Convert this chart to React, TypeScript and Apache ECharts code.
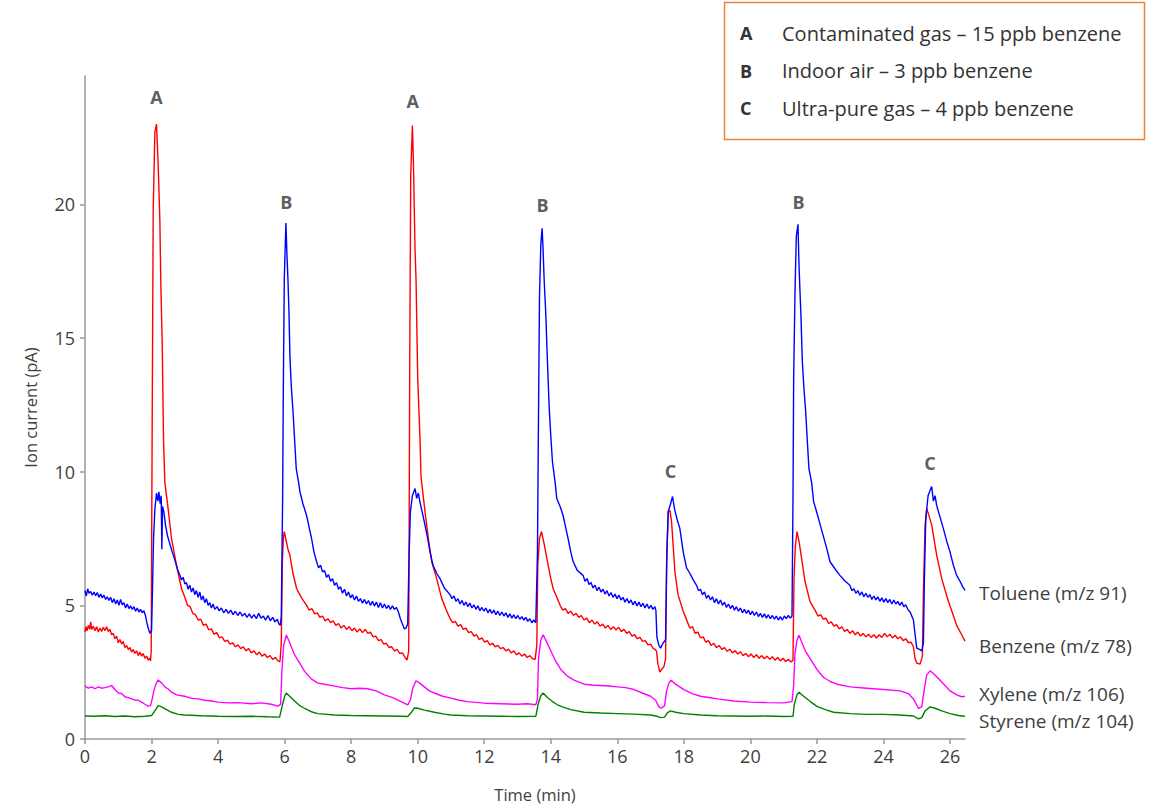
import React, { useEffect, useRef } from "react";
import * as echarts from "echarts";

// ---------- data (time in min, ion current in pA) ----------
const toluene: number[][] = [
  [0,5.55],[0.04,5.35],[0.08,5.62],[0.12,5.45],[0.17,5.52],[0.22,5.38],[0.27,5.5],[0.32,5.36],[0.37,5.48],[0.42,5.3],[0.47,5.42],[0.52,5.28],[0.57,5.38],[0.62,5.22],[0.67,5.32],[0.72,5.18],[0.77,5.3],[0.82,5.1],[0.87,5.25],[0.92,5.05],[0.97,5.2],[1.02,5.0],[1.07,5.22],[1.12,5.02],[1.17,5.1],[1.22,4.9],[1.27,5.05],[1.32,4.88],[1.37,4.98],[1.42,4.85],[1.47,4.95],[1.52,4.78],[1.57,4.9],[1.62,4.75],[1.67,4.85],[1.72,4.72],[1.77,4.8],[1.82,4.6],[1.86,4.35],[1.9,4.15],[1.95,3.95],[2.0,4.05],
  [2.03,5.7],[2.06,7.5],[2.1,8.6],[2.15,9.2],[2.19,8.9],[2.22,9.25],[2.26,8.8],[2.29,9.1],[2.31,7.1],[2.33,8.7],[2.37,8.5],[2.42,8.0],[2.48,7.6],[2.55,7.3],[2.62,7.0],[2.7,6.7],[2.78,6.35],
  [2.86,6.1],[2.9,5.95],[2.95,6.05],[3.0,5.8],[3.05,5.85],[3.1,5.6],[3.15,5.75],[3.2,5.5],[3.25,5.65],[3.3,5.4],[3.35,5.55],[3.4,5.3],[3.45,5.5],[3.5,5.2],[3.55,5.35],[3.6,5.1],[3.65,5.25],[3.7,5.0],[3.75,5.1],[3.8,4.9],[3.85,5.05],[3.9,4.85],[3.97,4.95],[4.03,4.8],[4.1,4.9],[4.17,4.72],[4.24,4.85],[4.31,4.7],[4.38,4.82],[4.45,4.65],[4.52,4.78],[4.59,4.62],[4.66,4.75],[4.73,4.6],[4.8,4.7],[4.87,4.55],[4.94,4.68],[5.01,4.52],[5.08,4.65],[5.15,4.5],[5.22,4.7],[5.29,4.52],[5.36,4.6],[5.43,4.45],[5.5,4.62],[5.57,4.42],[5.64,4.55],[5.71,4.38],[5.78,4.48],[5.83,4.3],[5.87,4.25],[5.9,4.6],
  [5.94,9.0],[5.96,13.0],[5.99,17.2],[6.02,18.5],[6.04,19.3],[6.07,18.1],[6.1,17.2],[6.13,16.0],[6.16,14.3],[6.2,13.2],[6.25,12.3],[6.3,11.2],[6.35,10.1],[6.42,9.6],[6.46,9.25],[6.55,8.8],[6.66,8.36],[6.74,7.9],[6.81,7.5],[6.88,7.0],
  [6.96,6.64],[7.02,6.4],[7.08,6.5],[7.14,6.25],[7.2,6.3],[7.26,6.05],[7.32,6.15],[7.38,5.9],[7.44,6.0],[7.5,5.75],[7.56,5.85],[7.62,5.6],[7.68,5.7],[7.74,5.45],[7.8,5.6],[7.86,5.35],[7.92,5.5],[7.98,5.28],[8.04,5.4],[8.1,5.2],[8.16,5.35],[8.22,5.15],[8.28,5.25],[8.34,5.08],[8.4,5.22],[8.46,5.05],[8.52,5.18],[8.58,5.0],[8.64,5.15],[8.7,4.98],[8.76,5.12],[8.82,4.92],[8.88,5.1],[8.94,4.9],[9.0,5.05],[9.06,4.88],[9.12,5.0],[9.18,4.85],[9.24,4.98],[9.3,4.85],[9.36,4.92],[9.42,4.75],[9.48,4.5],[9.54,4.3],[9.6,4.12],[9.65,4.15],[9.7,4.3],
  [9.74,6.8],[9.78,8.5],[9.84,9.1],[9.92,9.37],[9.97,9.0],[10.02,9.2],[10.07,8.85],[10.15,8.4],[10.22,8.0],[10.3,7.5],[10.37,7.0],[10.46,6.5],[10.57,6.2],[10.67,6.0],[10.8,5.65],
  [10.97,5.4],[11.03,5.25],[11.09,5.35],[11.15,5.15],[11.21,5.25],[11.27,5.05],[11.33,5.18],[11.39,5.0],[11.45,5.12],[11.51,4.95],[11.57,5.08],[11.63,4.9],[11.69,5.02],[11.75,4.85],[11.81,4.98],[11.87,4.8],[11.93,4.92],[11.99,4.78],[12.05,4.9],[12.11,4.72],[12.17,4.85],[12.23,4.7],[12.29,4.82],[12.35,4.65],[12.41,4.78],[12.47,4.62],[12.53,4.75],[12.59,4.6],[12.65,4.72],[12.71,4.55],[12.77,4.68],[12.83,4.52],[12.89,4.65],[12.95,4.5],[13.01,4.62],[13.07,4.48],[13.13,4.58],[13.19,4.45],[13.25,4.55],[13.31,4.4],[13.37,4.5],[13.43,4.35],[13.49,4.45],[13.55,4.35],
  [13.6,7.0],[13.63,12.0],[13.66,16.5],[13.7,18.5],[13.74,19.1],[13.77,18.25],[13.8,17.2],[13.85,15.9],[13.9,14.1],[13.95,12.46],[14.0,11.34],[14.05,10.37],[14.13,9.6],[14.18,9.0],[14.28,8.7],[14.37,8.36],[14.45,7.9],[14.52,7.5],[14.6,7.0],[14.67,6.64],[14.8,6.3],
  [14.97,6.12],[15.03,5.9],[15.09,6.0],[15.15,5.78],[15.21,5.85],[15.27,5.65],[15.33,5.75],[15.39,5.55],[15.45,5.68],[15.51,5.5],[15.57,5.6],[15.63,5.42],[15.69,5.55],[15.75,5.35],[15.81,5.48],[15.87,5.3],[15.93,5.42],[15.99,5.25],[16.05,5.38],[16.11,5.2],[16.17,5.3],[16.23,5.12],[16.29,5.25],[16.35,5.08],[16.41,5.2],[16.47,5.02],[16.53,5.15],[16.59,4.98],[16.65,5.12],[16.71,4.95],[16.77,5.08],[16.83,4.9],[16.89,5.05],[16.95,4.88],[17.01,5.0],[17.07,4.85],[17.13,4.95],[17.16,4.8],[17.19,3.8],[17.25,3.5],[17.3,3.4],[17.38,3.6],[17.45,3.7],
  [17.49,7.0],[17.53,8.5],[17.6,8.8],[17.66,9.07],[17.72,8.6],[17.8,8.2],[17.88,7.87],[17.98,7.0],[18.08,6.4],[18.18,6.2],[18.28,5.95],
  [18.38,5.75],[18.44,5.55],[18.5,5.6],[18.56,5.4],[18.62,5.5],[18.68,5.26],[18.74,5.38],[18.8,5.2],[18.86,5.32],[18.92,5.1],[18.98,5.25],[19.04,5.05],[19.1,5.2],[19.16,5.0],[19.22,5.12],[19.28,4.92],[19.34,5.05],[19.4,4.88],[19.46,5.0],[19.52,4.82],[19.58,4.95],[19.64,4.78],[19.7,4.9],[19.76,4.72],[19.82,4.85],[19.88,4.7],[19.94,4.82],[20.0,4.65],[20.06,4.78],[20.12,4.62],[20.18,4.75],[20.24,4.58],[20.3,4.7],[20.36,4.55],[20.42,4.68],[20.48,4.52],[20.54,4.65],[20.6,4.5],[20.66,4.62],[20.72,4.48],[20.78,4.6],[20.84,4.45],[20.9,4.58],[20.96,4.45],[21.02,4.6],[21.08,4.5],[21.14,4.62],[21.2,4.52],[21.25,4.6],
  [21.28,9.0],[21.3,13.5],[21.34,16.7],[21.38,18.8],[21.43,19.25],[21.46,17.76],[21.49,16.75],[21.52,15.8],[21.56,14.14],[21.61,13.1],[21.66,12.28],[21.71,11.16],[21.76,10.1],[21.84,9.6],[21.9,8.88],[21.99,8.5],[22.1,8.0],[22.19,7.6],[22.3,7.1],[22.39,6.64],[22.55,6.35],[22.69,6.12],[22.85,5.9],
  [22.99,5.75],[23.05,5.55],[23.11,5.62],[23.17,5.45],[23.23,5.55],[23.29,5.38],[23.35,5.5],[23.41,5.32],[23.47,5.45],[23.53,5.3],[23.59,5.4],[23.65,5.22],[23.71,5.35],[23.77,5.2],[23.83,5.32],[23.89,5.15],[23.95,5.28],[24.01,5.12],[24.07,5.25],[24.13,5.1],[24.19,5.22],[24.25,5.05],[24.31,5.2],[24.37,5.05],[24.43,5.15],[24.49,5.0],[24.55,5.12],[24.61,4.95],[24.67,5.02],[24.73,4.85],[24.8,4.75],[24.9,4.45],[24.95,3.9],[25.0,3.4],[25.08,3.35],[25.15,3.3],[25.2,3.6],
  [25.23,6.0],[25.27,8.2],[25.34,9.1],[25.4,9.3],[25.45,9.44],[25.5,8.9],[25.55,9.1],[25.6,8.73],[25.7,8.3],[25.8,7.87],[25.9,7.4],[26.0,7.0],[26.1,6.5],[26.2,6.12],[26.3,5.9],[26.38,5.7],[26.45,5.56],
];

const benzene: number[][] = [
  [0,4.0],[0.03,4.2],[0.06,4.05],[0.1,4.25],[0.14,4.1],[0.17,4.38],[0.2,4.1],[0.25,4.22],[0.3,4.05],[0.35,4.2],[0.4,4.0],[0.45,4.15],[0.5,4.02],[0.55,4.18],[0.6,4.05],[0.65,4.2],[0.7,4.02],[0.75,4.1],[0.8,3.9],[0.85,3.95],[0.9,3.75],[0.95,3.85],[1.0,3.6],[1.05,3.72],[1.1,3.55],[1.15,3.65],[1.2,3.42],[1.25,3.5],[1.3,3.35],[1.35,3.42],[1.4,3.25],[1.45,3.35],[1.5,3.2],[1.55,3.3],[1.6,3.12],[1.65,3.25],[1.7,3.1],[1.75,3.2],[1.8,3.02],[1.85,3.1],[1.9,2.95],[1.94,3.02],[1.97,2.92],[1.99,3.3],
  [2.02,12.0],[2.05,19.75],[2.1,22.7],[2.15,23.0],[2.2,21.45],[2.25,19.4],[2.28,16.95],[2.32,14.85],[2.36,11.2],[2.4,9.6],[2.5,8.6],[2.6,7.5],[2.75,6.5],[2.9,5.63],
  [3.0,5.3],[3.08,5.0],[3.16,4.95],[3.24,4.7],[3.32,4.65],[3.4,4.45],[3.48,4.48],[3.56,4.25],[3.64,4.3],[3.72,4.08],[3.8,4.12],[3.88,3.92],[3.96,3.98],[4.04,3.78],[4.12,3.82],[4.2,3.65],[4.28,3.7],[4.36,3.55],[4.44,3.6],[4.52,3.45],[4.6,3.52],[4.68,3.38],[4.76,3.45],[4.84,3.3],[4.92,3.38],[5.0,3.22],[5.08,3.3],[5.16,3.15],[5.24,3.25],[5.32,3.1],[5.4,3.18],[5.48,3.05],[5.56,3.12],[5.64,2.98],[5.72,3.05],[5.8,2.92],[5.86,2.9],[5.9,3.6],
  [5.93,6.5],[5.96,7.5],[5.99,7.76],[6.05,7.4],[6.1,7.1],[6.16,6.87],[6.25,6.2],[6.36,5.63],[6.5,5.3],
  [6.66,5.0],[6.74,4.82],[6.82,4.88],[6.9,4.68],[6.98,4.72],[7.06,4.55],[7.14,4.6],[7.22,4.42],[7.3,4.5],[7.38,4.35],[7.46,4.42],[7.54,4.25],[7.62,4.32],[7.7,4.15],[7.78,4.25],[7.86,4.1],[7.94,4.2],[8.02,4.05],[8.1,4.15],[8.18,4.0],[8.26,4.12],[8.34,3.98],[8.42,4.1],[8.5,3.95],[8.58,4.0],[8.66,3.82],[8.74,3.85],[8.82,3.68],[8.9,3.72],[8.98,3.55],[9.06,3.58],[9.14,3.42],[9.22,3.45],[9.3,3.3],[9.38,3.35],[9.46,3.2],[9.54,3.22],[9.62,3.05],[9.68,2.95],[9.73,3.3],
  [9.76,14.0],[9.79,21.06],[9.84,22.95],[9.87,21.68],[9.92,18.3],[9.95,17.2],[10.0,13.5],[10.07,11.2],[10.1,9.8],[10.22,8.5],[10.32,7.5],[10.42,6.64],[10.57,6.0],[10.72,5.26],[10.85,4.85],
  [10.97,4.51],[11.05,4.35],[11.13,4.4],[11.21,4.22],[11.29,4.28],[11.37,4.1],[11.45,4.15],[11.53,3.98],[11.61,4.02],[11.69,3.85],[11.77,3.9],[11.85,3.72],[11.93,3.78],[12.01,3.62],[12.09,3.68],[12.17,3.52],[12.25,3.58],[12.33,3.45],[12.41,3.5],[12.49,3.38],[12.57,3.42],[12.65,3.3],[12.73,3.36],[12.81,3.22],[12.89,3.3],[12.97,3.15],[13.05,3.22],[13.13,3.1],[13.21,3.18],[13.29,3.05],[13.37,3.12],[13.45,3.0],[13.53,2.98],[13.58,3.5],
  [13.61,6.5],[13.66,7.5],[13.72,7.76],[13.8,7.3],[13.92,6.5],[14.0,6.0],[14.07,5.63],[14.18,5.3],
  [14.28,5.0],[14.36,4.82],[14.44,4.88],[14.52,4.7],[14.6,4.78],[14.68,4.62],[14.76,4.7],[14.84,4.55],[14.92,4.62],[15.0,4.45],[15.08,4.52],[15.16,4.35],[15.24,4.45],[15.32,4.3],[15.4,4.38],[15.48,4.22],[15.56,4.3],[15.64,4.15],[15.72,4.25],[15.8,4.1],[15.88,4.2],[15.96,4.08],[16.04,4.18],[16.12,4.02],[16.2,4.1],[16.28,3.95],[16.36,4.02],[16.44,3.85],[16.52,3.9],[16.6,3.75],[16.68,3.8],[16.76,3.65],[16.84,3.68],[16.92,3.52],[17.0,3.55],[17.08,3.38],[17.14,3.35],[17.18,3.28],[17.22,2.8],[17.28,2.5],[17.33,2.6],[17.4,2.7],[17.45,3.0],
  [17.48,6.5],[17.53,8.5],[17.58,8.55],[17.63,8.13],[17.68,7.2],[17.73,6.27],[17.78,5.8],[17.83,5.37],[17.9,5.1],[17.98,4.78],
  [18.1,4.4],[18.18,4.15],[18.26,4.2],[18.34,3.95],[18.42,4.0],[18.5,3.78],[18.58,3.82],[18.66,3.62],[18.74,3.68],[18.82,3.5],[18.9,3.58],[18.98,3.42],[19.06,3.5],[19.14,3.35],[19.22,3.42],[19.3,3.28],[19.38,3.36],[19.46,3.22],[19.54,3.3],[19.62,3.18],[19.7,3.26],[19.78,3.12],[19.86,3.2],[19.94,3.08],[20.02,3.18],[20.1,3.05],[20.18,3.15],[20.26,3.02],[20.34,3.12],[20.42,3.0],[20.5,3.1],[20.58,2.98],[20.66,3.08],[20.74,2.95],[20.82,3.05],[20.9,2.92],[20.98,3.02],[21.06,2.9],[21.14,2.98],[21.22,2.88],[21.28,2.95],
  [21.31,6.0],[21.35,7.2],[21.4,7.76],[21.46,7.4],[21.54,6.75],[21.64,5.9],[21.79,5.15],
  [21.95,4.8],[22.03,4.6],[22.11,4.65],[22.19,4.48],[22.27,4.52],[22.35,4.32],[22.43,4.38],[22.51,4.22],[22.59,4.28],[22.67,4.12],[22.75,4.2],[22.83,4.02],[22.91,4.1],[22.99,3.95],[23.07,4.05],[23.15,3.9],[23.23,4.0],[23.31,3.85],[23.39,3.95],[23.47,3.82],[23.55,3.92],[23.63,3.8],[23.71,3.9],[23.79,3.78],[23.87,3.9],[23.95,3.8],[24.03,3.95],[24.11,3.82],[24.19,3.92],[24.27,3.78],[24.35,3.88],[24.43,3.75],[24.51,3.82],[24.59,3.68],[24.67,3.75],[24.75,3.6],[24.83,3.62],[24.9,3.45],[24.95,3.0],[25.0,2.84],[25.1,2.8],[25.17,3.1],
  [25.2,5.5],[25.25,8.0],[25.3,8.62],[25.38,8.3],[25.45,8.0],[25.6,6.87],[25.75,6.0],[25.95,5.15],[26.05,4.8],[26.2,4.25],[26.35,3.9],[26.45,3.66],
];

const xylene: number[][] = [
  [0,1.98],[0.1,1.9],[0.2,1.95],[0.3,1.88],[0.4,1.95],[0.5,1.9],[0.6,1.92],[0.7,1.95],[0.8,2.0],[0.9,1.85],[1.0,1.72],[1.1,1.7],[1.2,1.58],[1.3,1.55],[1.4,1.5],[1.5,1.46],[1.6,1.45],[1.7,1.38],[1.8,1.3],[1.9,1.23],[1.97,1.25],[2.02,1.5],[2.07,1.8],[2.13,2.05],[2.2,2.21],[2.3,2.1],[2.4,1.95],[2.5,1.87],[2.6,1.75],[2.75,1.65],[2.9,1.62],[3.0,1.6],[3.2,1.52],[3.4,1.5],[3.6,1.45],[3.8,1.42],[4.0,1.38],[4.3,1.35],[4.6,1.36],[5.0,1.32],[5.3,1.35],[5.6,1.3],[5.8,1.23],[5.88,1.3],
  [5.92,2.6],[5.97,3.5],[6.05,3.89],[6.12,3.7],[6.2,3.45],[6.3,3.15],[6.45,2.85],[6.6,2.53],[6.8,2.25],[7.0,2.09],[7.2,2.05],[7.5,1.98],[7.75,1.92],[8.0,1.88],[8.25,1.9],[8.5,1.88],[8.75,1.8],[9.0,1.65],[9.25,1.55],[9.5,1.4],[9.7,1.28],[9.78,1.45],[9.85,1.9],[9.95,2.18],[10.05,2.1],[10.2,1.95],[10.35,1.8],[10.5,1.72],[10.75,1.6],[11.0,1.53],[11.25,1.45],[11.5,1.4],[12.0,1.34],[12.5,1.32],[13.0,1.3],[13.3,1.32],[13.55,1.28],[13.6,1.5],
  [13.63,3.0],[13.7,3.7],[13.77,3.9],[13.85,3.7],[14.0,3.3],[14.15,2.9],[14.3,2.6],[14.5,2.35],[14.7,2.2],[15.0,2.05],[15.25,2.02],[15.5,2.0],[15.75,1.98],[16.0,1.95],[16.25,1.92],[16.5,1.85],[16.75,1.72],[17.0,1.6],[17.15,1.45],[17.25,1.2],[17.32,1.15],[17.42,1.25],[17.48,1.8],[17.55,2.1],[17.62,2.2],[17.75,2.05],[18.0,1.85],[18.25,1.7],[18.5,1.6],[18.75,1.55],[19.0,1.5],[19.5,1.42],[20.0,1.38],[20.5,1.36],[21.0,1.35],[21.25,1.4],[21.3,2.0],
  [21.34,3.2],[21.4,3.7],[21.46,3.88],[21.55,3.6],[21.65,3.3],[21.8,3.0],[22.0,2.6],[22.2,2.3],[22.4,2.15],[22.6,2.05],[23.0,1.95],[23.5,1.9],[24.0,1.85],[24.5,1.8],[24.75,1.7],[24.9,1.5],[25.05,1.15],[25.15,1.2],[25.22,1.8],[25.3,2.4],[25.4,2.55],[25.5,2.45],[25.7,2.2],[25.85,2.0],[26.0,1.8],[26.2,1.65],[26.35,1.58],[26.45,1.6],
];

const styrene: number[][] = [
  [0,0.86],[0.3,0.85],[0.6,0.87],[0.9,0.84],[1.2,0.86],[1.5,0.83],[1.8,0.85],[2.0,0.88],[2.1,1.05],[2.2,1.25],[2.3,1.2],[2.45,1.1],[2.6,1.0],[2.8,0.92],[3.0,0.9],[3.5,0.87],[4.0,0.85],[4.5,0.84],[5.0,0.85],[5.5,0.83],[5.85,0.82],[5.92,1.2],[6.0,1.6],[6.05,1.72],[6.15,1.6],[6.3,1.42],[6.45,1.25],[6.6,1.15],[6.8,1.02],[7.0,0.95],[7.5,0.9],[8.0,0.88],[8.5,0.87],[9.0,0.86],[9.5,0.85],[9.7,0.84],[9.8,0.98],[9.9,1.16],[10.0,1.15],[10.2,1.08],[10.5,1.0],[10.8,0.93],[11.0,0.9],[11.5,0.87],[12.0,0.86],[12.5,0.85],[13.0,0.84],[13.55,0.85],[13.62,1.3],[13.7,1.62],[13.77,1.72],[13.9,1.55],[14.05,1.4],[14.2,1.28],[14.35,1.2],[14.6,1.1],[15.0,1.0],[15.5,0.97],[16.0,0.95],[16.5,0.93],[17.0,0.9],[17.2,0.85],[17.3,0.8],[17.42,0.82],[17.5,0.98],[17.6,1.05],[17.75,1.0],[18.0,0.95],[18.5,0.9],[19.0,0.87],[19.5,0.86],[20.0,0.85],[20.5,0.86],[21.0,0.84],[21.28,0.85],[21.32,1.3],[21.4,1.65],[21.46,1.75],[21.6,1.6],[21.8,1.4],[22.0,1.22],[22.25,1.1],[22.5,1.0],[23.0,0.95],[23.5,0.92],[24.0,0.92],[24.5,0.9],[24.9,0.86],[25.05,0.75],[25.15,0.8],[25.25,1.05],[25.4,1.2],[25.55,1.15],[25.75,1.05],[26.0,0.95],[26.25,0.88],[26.45,0.85],
];

const seriesNames = ["Styrene (m/z 104)", "Xylene (m/z 106)", "Benzene (m/z 78)", "Toluene (m/z 91)"];
const seriesColors = ["#008000", "#FF00FF", "#FF0000", "#0000FF"];
const endLabelOffsets = [[0, 5], [0, -2], [0, 5], [0, 3]];

const peakTimes = [2.15, 6.05, 9.85, 13.75, 17.6, 21.45, 25.4];
const peakLevels = [24.03, 20.1, 23.88, 19.99, 10.04, 20.1, 10.34];
const peakLetters = ["A", "B", "A", "B", "C", "B", "C"];

const legendLetters = ["A", "B", "C"];
const legendTexts = [
  "Contaminated gas – 15 ppb benzene",
  "Indoor air – 3 ppb benzene",
  "Ultra-pure gas – 4 ppb benzene",
];

const xTicks = [0, 2, 4, 6, 8, 10, 12, 14, 16, 18, 20, 22, 24, 26];
const yTicks = [0, 5, 10, 15, 20];

const FONT = "'Open Sans', 'Liberation Sans', Arial, sans-serif";
const TEXT = "#404040";

export default function App() {
  const ref = useRef<HTMLDivElement>(null);
  useEffect(() => {
    if (!ref.current) return;
    const chart = echarts.init(ref.current, null, { renderer: "svg" });
    const traces = [styrene, xylene, benzene, toluene];
    const lineSeries = traces.map((d, i) => ({
      type: "line",
      name: seriesNames[i],
      data: d,
      showSymbol: false,
      symbol: "none",
      lineStyle: { color: seriesColors[i], width: 1.4 },
      itemStyle: { color: seriesColors[i] },
      endLabel: {
        show: true,
        formatter: seriesNames[i],
        color: TEXT,
        fontSize: 19,
        lineHeight: 20,
        fontFamily: FONT,
        distance: 14,
        offset: endLabelOffsets[i],
      },
      z: 2 + i,
    }));
    const peakSeries = {
      type: "scatter",
      data: peakTimes.map((t, i) => [t, peakLevels[i], peakLetters[i]]),
      symbolSize: 1,
      itemStyle: { color: "rgba(0,0,0,0)" },
      label: {
        show: true,
        position: "inside",
        formatter: (p: any) => p.data[2],
        fontSize: 18,
        fontWeight: "bold",
        fontFamily: FONT,
        color: "#333333",
      },
      z: 10,
    };
    const graphics: any[] = [
      {
        type: "rect",
        shape: { x: 724.5, y: 2.5, width: 420, height: 137 },
        style: { fill: "#ffffff", stroke: "#E8843C", lineWidth: 1.5 },
        z: 20,
      },
    ];
    legendLetters.forEach((l, i) => {
      const y = 33 + i * 37.5;
      graphics.push({
        type: "text",
        x: 740,
        y,
        style: { text: l, font: `bold 18px ${FONT}`, fill: "#333333", verticalAlign: "middle" },
        z: 21,
      });
      graphics.push({
        type: "text",
        x: 782,
        y,
        style: { text: legendTexts[i], font: `20px ${FONT}`, fill: "#333333", verticalAlign: "middle" },
        z: 21,
      });
    });
    chart.setOption({
      animation: false,
      grid: { left: 85, right: 195, top: 76, bottom: 67, containLabel: false },
      xAxis: {
        type: "value",
        min: 0,
        max: 26.45,
        name: "Time (min)",
        nameLocation: "middle",
        nameGap: 47,
        nameTextStyle: { color: TEXT, fontSize: 16.5, fontFamily: FONT, padding: [0, 0, 0, 20] },
        axisLine: { show: true, lineStyle: { color: "#999999", width: 1.5 } },
        axisTick: { show: true, length: 5, lineStyle: { color: "#999999", width: 1.5 }, customValues: xTicks },
        axisLabel: { color: TEXT, fontSize: 18, fontFamily: FONT, margin: 8, customValues: xTicks },
        splitLine: { show: false },
      },
      yAxis: {
        type: "value",
        min: 0,
        max: 24.8,
        name: "Ion current (pA)",
        nameLocation: "middle",
        nameRotate: 90,
        nameGap: 46,
        nameTextStyle: { color: TEXT, fontSize: 16.5, fontFamily: FONT },
        axisLine: { show: true, lineStyle: { color: "#999999", width: 1.5 } },
        axisTick: { show: true, length: 5, lineStyle: { color: "#999999", width: 1.5 }, customValues: yTicks },
        axisLabel: { color: TEXT, fontSize: 18, fontFamily: FONT, margin: 10, customValues: yTicks },
        splitLine: { show: false },
      },
      series: [...lineSeries, peakSeries],
      graphic: graphics,
    });
    return () => chart.dispose();
  }, []);
  return (
    <div
      ref={ref}
      style={{ position: "fixed", left: 0, top: 0, width: 1160, height: 808, background: "#ffffff" }}
    />
  );
}
